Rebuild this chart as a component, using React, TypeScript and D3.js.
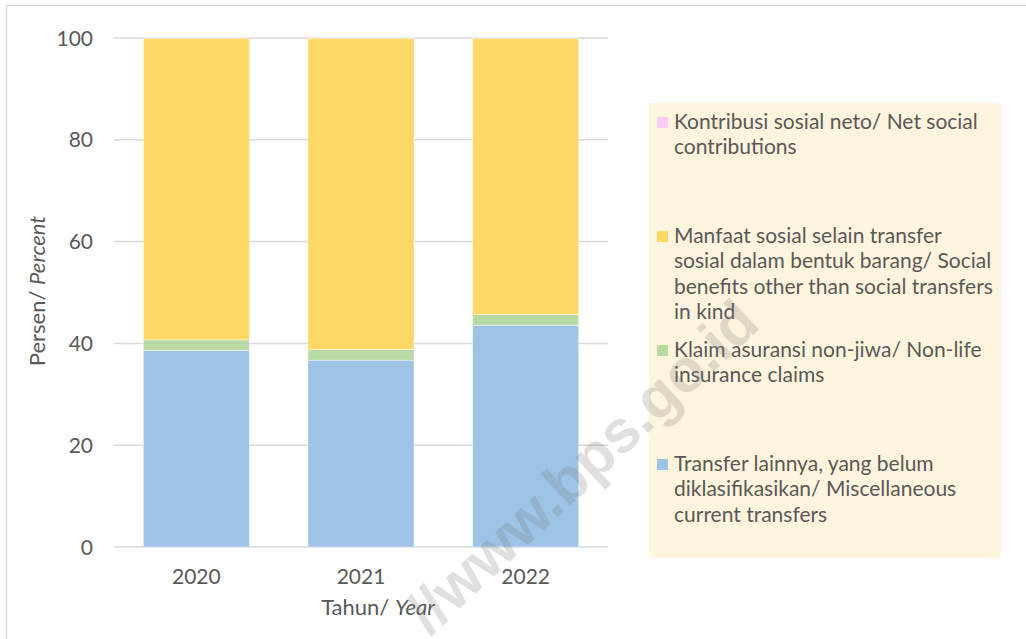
import React from "react";
import * as d3 from "d3";

// data
const years = ["2020", "2021", "2022"];
const transferLainnya = [38.6, 36.7, 43.5];
const klaimAsuransi = [2.1, 2.1, 2.2];
const manfaatSosial = [59.27, 61.17, 54.27];
const kontribusiSosial = [0.03, 0.03, 0.03];
const yTicks = [0, 20, 40, 60, 80, 100];

const seriesKeys = ["transfer", "klaim", "manfaat", "kontribusi"];
const seriesColors: Record<string, string> = {
    transfer: "#9DC3E6",
    klaim: "#B9D9A5",
    manfaat: "#FFD966",
    kontribusi: "#FFCCF5",
};
// legend goes top-down, reverse of stack order
const legendItems = [
    {key: "kontribusi", lines: ["Kontribusi sosial neto/ Net social", "contributions"]},
    {key: "manfaat", lines: ["Manfaat sosial selain transfer", "sosial dalam bentuk barang/ Social", "benefits other than social transfers", "in kind"]},
    {key: "klaim", lines: ["Klaim asuransi non-jiwa/ Non-life", "insurance claims"]},
    {key: "transfer", lines: ["Transfer lainnya, yang belum", "diklasifikasikan/ Miscellaneous", "current transfers"]},
];

const W = 1026;
const H = 639;
const textColor = "#595959";
const font = "Lato, 'Open Sans', sans-serif";

const App = () => {
    const rows = years.map((y, i) => ({
        year: y,
        transfer: transferLainnya[i],
        klaim: klaimAsuransi[i],
        manfaat: manfaatSosial[i],
        kontribusi: kontribusiSosial[i],
    }));

    const stacked = d3.stack<any>().keys(seriesKeys)(rows);

    const x = d3.scaleBand()
        .domain(years)
        .range([114, 608])
        .paddingInner(0.356)
        .paddingOuter(0.178);

    const y = d3.scaleLinear()
        .domain([0, 100])
        .range([547, 38]);

    const legendX = 649;
    const legendTop = 103;
    const firstBaseline = 129;
    const entryStep = 114;
    const lineH = 25.3;

    return (
        <svg width={W} height={H} style={{position: "absolute", left: 0, top: 0}} fontFamily={font}>
            <rect x={0} y={0} width={W} height={H} fill="#fff"/>
            <rect x={6.5} y={5.5} width={W + 10} height={H + 10} fill="none" stroke="#d9d9d9" strokeWidth={1.5}/>

            {/* gridlines + y labels */}
            {yTicks.map(t => (
                <g key={t}>
                    <line x1={114} x2={608} y1={y(t)} y2={y(t)} stroke="#d9d9d9" strokeWidth={1.5}/>
                    <text x={93} y={y(t) + 7.5} textAnchor="end" fontSize={21} fill={textColor}>{t}</text>
                </g>
            ))}

            {/* bars */}
            {stacked.map(s => (
                <g key={s.key} fill={seriesColors[s.key]}>
                    {s.map((d, i) => (
                        <rect key={i}
                              x={x(years[i])}
                              y={y(d[1])}
                              width={x.bandwidth()}
                              height={y(d[0]) - y(d[1])}
                              stroke="rgba(255,255,255,0.55)"
                              strokeWidth={0.8}/>
                    ))}
                </g>
            ))}

            {/* x labels */}
            {years.map(yr => (
                <text key={yr} x={(x(yr) as number) + x.bandwidth() / 2} y={584}
                      textAnchor="middle" fontSize={21} fill={textColor}>{yr}</text>
            ))}
            <text x={378} y={615} textAnchor="middle" fontSize={22} fill={textColor}>
                Tahun/ <tspan fontStyle="italic">Year</tspan>
            </text>
            <text transform="translate(45,291) rotate(-90)" textAnchor="middle" fontSize={22} fill={textColor}>
                Persen/ <tspan fontStyle="italic">Percent</tspan>
            </text>

            {/* legend */}
            <rect x={legendX} y={legendTop} width={352} height={455} fill="#FFF4DD"/>
            {legendItems.map((item, i) => {
                const base = firstBaseline + i * entryStep;
                return (
                    <g key={item.key}>
                        <rect x={657} y={base - 12} width={11} height={11} fill={seriesColors[item.key]}/>
                        {item.lines.map((ln, j) => (
                            <text key={j} x={674} y={base + j * lineH} fontSize={21} fill={textColor}>{ln}</text>
                        ))}
                    </g>
                );
            })}

            {/* watermark */}
            <text transform="translate(585,470) rotate(-43)" textAnchor="middle" dominantBaseline="middle"
                  fontFamily="'Liberation Sans', Arial, sans-serif" fontWeight="bold" fontSize={60}
                  fill="#808080" opacity={0.24}>//www.bps.go.id</text>
        </svg>
    );
};

export default App;
